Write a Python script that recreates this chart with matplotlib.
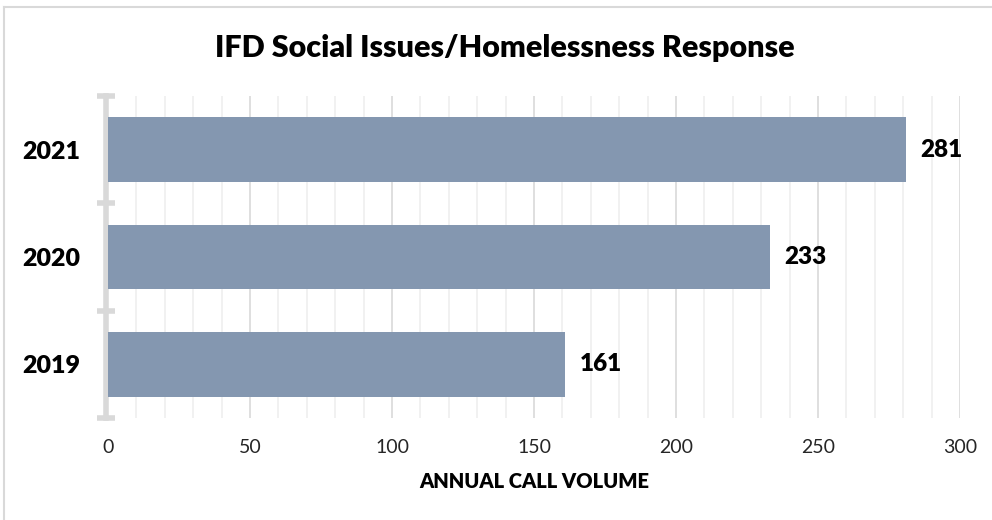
import matplotlib.pyplot as plt
from matplotlib.lines import Line2D

# Chart data
years = ['2019', '2020', '2021']
calls = [161, 233, 281]
x_ticks = [0, 50, 100, 150, 200, 250, 300]

bar_color = '#8497b0'
grid_major = '#d9d9d9'
grid_minor = '#efefef'
axis_grey = '#d9d9d9'

plt.rcParams['font.family'] = ['Lato', 'DejaVu Sans']

fig = plt.figure(figsize=(9.92, 5.2), dpi=100)
ax = fig.add_axes([108 / 992, 1 - 418 / 520, 852 / 992, 322 / 520])

# Frame of the chart area (top and left edges visible in crop)
fig.add_artist(Line2D([4 / 992, 1], [1 - 7 / 520, 1 - 7 / 520],
                      transform=fig.transFigure, color='#d9d9d9', lw=1.5))
fig.add_artist(Line2D([4 / 992, 4 / 992], [0, 1 - 7 / 520],
                      transform=fig.transFigure, color='#d9d9d9', lw=1.5))

pos = list(range(len(years)))
bars = ax.barh(pos, calls, height=0.6, color=bar_color, zorder=3)

for p, v in zip(pos, calls):
    ax.text(v + 5, p, str(v), va='center', ha='left', fontsize=17.5,
            fontweight='heavy', color='black', zorder=4)

ax.set_xlim(0, 300)
ax.set_ylim(-0.5, 2.5)

# Gridlines: minor every 10, major every 50
for gx in range(10, 301, 10):
    c = grid_major if gx % 50 == 0 else grid_minor
    ax.axvline(gx, color=c, lw=1.2, zorder=1)

ax.set_xticks(x_ticks)
ax.set_xticklabels([str(t) for t in x_ticks], fontsize=14, color='#262626')
ax.tick_params(axis='x', length=0, pad=15)

ax.set_yticks(pos)
ax.set_yticklabels(years, fontsize=18, fontweight='heavy')
ax.tick_params(axis='y', length=0, pad=20)

for s in ['top', 'right', 'bottom', 'left']:
    ax.spines[s].set_visible(False)

# Thick vertical category axis with boundary ticks
ax.axvline(-0.7, color=axis_grey, lw=4, zorder=2, clip_on=False)
for b in [-0.5, 0.5, 1.5, 2.5]:
    ax.plot([-3.8, 2.5], [b, b], color=axis_grey, lw=4, solid_capstyle='butt',
            clip_on=False, zorder=2)

ax.set_xlabel('ANNUAL CALL VOLUME', fontsize=14.5, fontweight='heavy', labelpad=12)

fig.text(505 / 992, 1 - 48 / 520, 'IFD Social Issues/Homelessness Response',
         ha='center', va='center', fontsize=22, fontweight='heavy')

fig.savefig('out.png', dpi=100, facecolor='white')
